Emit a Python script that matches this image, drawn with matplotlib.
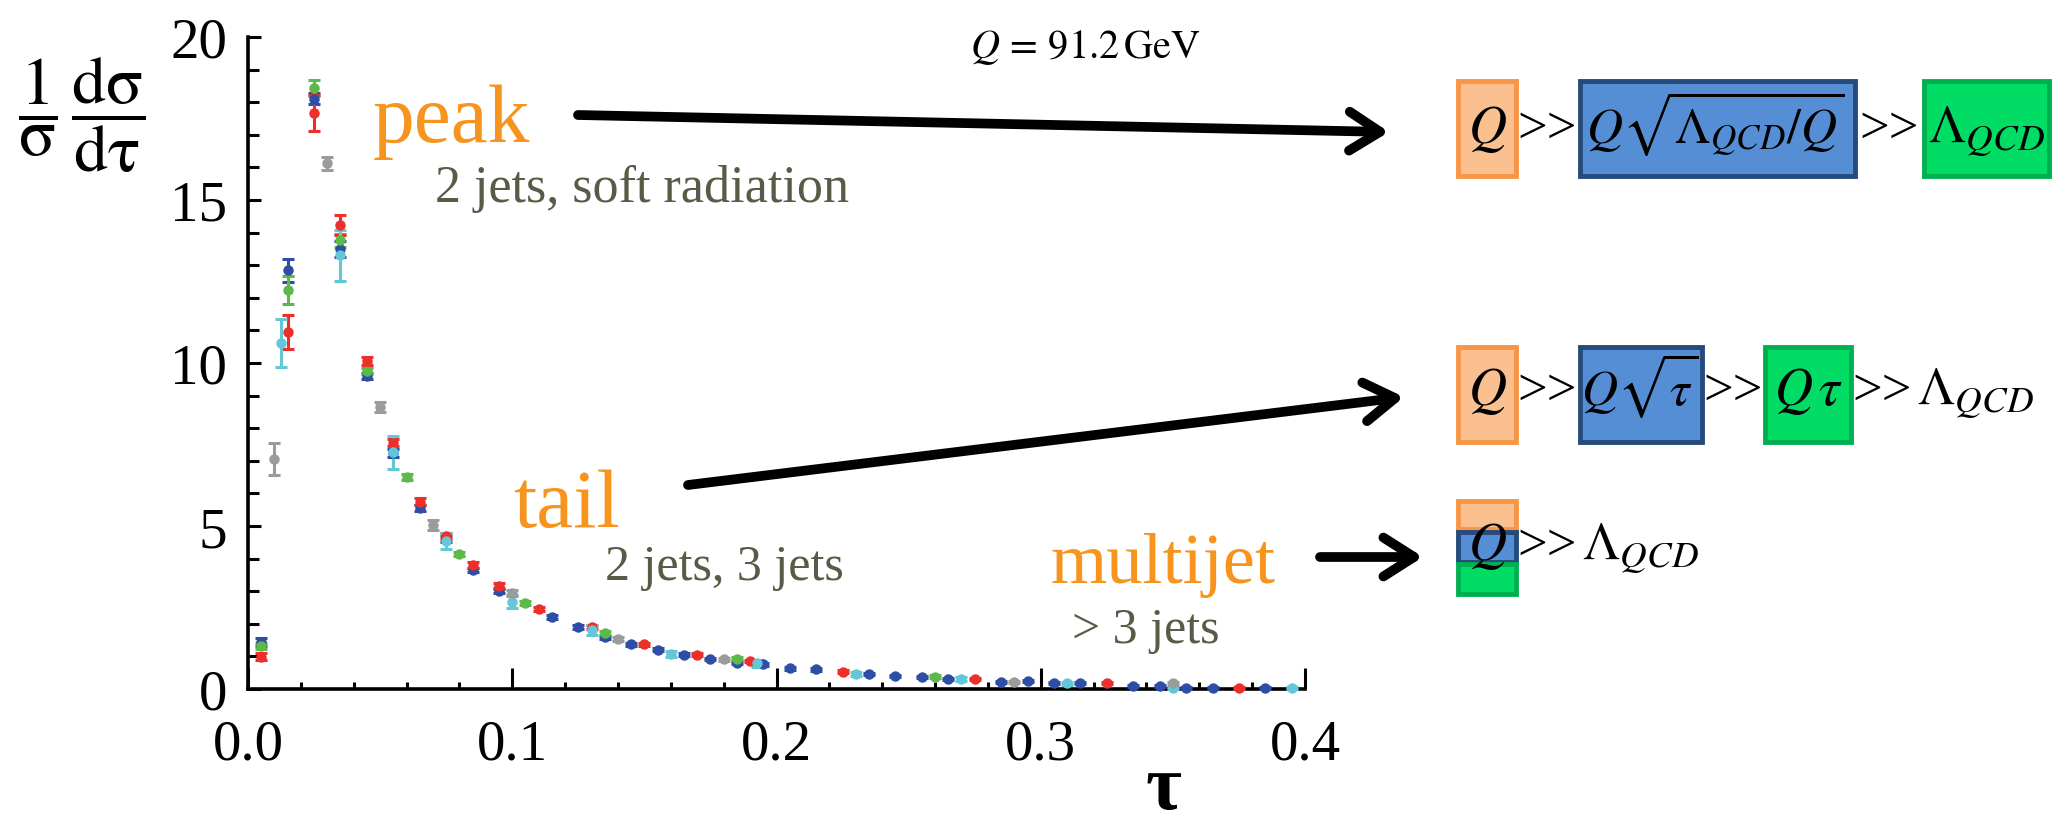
import matplotlib
matplotlib.use("Agg")
import matplotlib.pyplot as plt
from matplotlib.patches import Rectangle
from matplotlib.ticker import MultipleLocator, FixedLocator, FixedFormatter

plt.rcParams['font.family'] = ['Liberation Serif', 'DejaVu Serif']
plt.rcParams['mathtext.fontset'] = 'stix'

# thrust distribution at Q = 91.2 GeV, several experiments
blue_tau = [0.005, 0.015, 0.025, 0.035, 0.045, 0.055, 0.065, 0.075, 0.085, 0.095,
            0.115, 0.125, 0.135, 0.145, 0.155, 0.165, 0.175, 0.185, 0.195, 0.205,
            0.215, 0.235, 0.245, 0.255, 0.265, 0.285, 0.295, 0.305, 0.315, 0.335,
            0.345, 0.355, 0.365, 0.385]
blue_val = [1.45, 12.85, 18.1, 13.5, 9.6, 7.25, 5.55, 4.6, 3.65, 3.0,
            2.22, 1.91, 1.59, 1.37, 1.21, 1.05, 0.92, 0.81, 0.76, 0.63,
            0.60, 0.45, 0.40, 0.38, 0.31, 0.22, 0.24, 0.17, 0.17, 0.09,
            0.09, 0.03, 0.04, 0.03]
blue_err = [0.12, 0.35, 0.17, 0.25, 0.1, 0.12, 0.08, 0.08, 0.07, 0.07,
            0.06, 0.06, 0.05, 0.05, 0.05, 0.05, 0.04, 0.04, 0.04, 0.04,
            0.04, 0.03, 0.03, 0.03, 0.03, 0.03, 0.03, 0.03, 0.03, 0.02,
            0.02, 0.02, 0.02, 0.02]

red_tau = [0.005, 0.015, 0.025, 0.035, 0.045, 0.055, 0.065, 0.075, 0.085, 0.095,
           0.11, 0.13, 0.15, 0.17, 0.19, 0.225, 0.275, 0.325, 0.375]
red_val = [0.99, 10.95, 17.68, 14.23, 10.05, 7.56, 5.75, 4.7, 3.8, 3.17,
           2.45, 1.89, 1.37, 1.05, 0.86, 0.53, 0.31, 0.19, 0.03]
red_err = [0.1, 0.52, 0.55, 0.3, 0.12, 0.12, 0.1, 0.1, 0.1, 0.08,
           0.06, 0.06, 0.05, 0.05, 0.04, 0.04, 0.03, 0.03, 0.02]

green_tau = [0.005, 0.015, 0.025, 0.035, 0.045, 0.06, 0.08, 0.105, 0.135, 0.185, 0.26]
green_val = [1.32, 12.24, 18.43, 13.77, 9.75, 6.51, 4.14, 2.63, 1.71, 0.93, 0.38]
green_err = [0.08, 0.43, 0.25, 0.2, 0.1, 0.1, 0.06, 0.06, 0.06, 0.05, 0.04]

cyan_tau = [0.0125, 0.035, 0.055, 0.075, 0.1, 0.13, 0.16, 0.1925, 0.23, 0.27, 0.31, 0.35, 0.395]
cyan_val = [10.62, 13.31, 7.26, 4.55, 2.68, 1.81, 1.08, 0.79, 0.45, 0.31, 0.17, 0.03, 0.03]
cyan_err = [0.73, 0.78, 0.5, 0.25, 0.2, 0.15, 0.1, 0.1, 0.06, 0.05, 0.04, 0.03, 0.03]

gray_tau = [0.01, 0.03, 0.05, 0.07, 0.1, 0.14, 0.18, 0.29, 0.35]
gray_val = [7.05, 16.13, 8.66, 5.03, 2.94, 1.54, 0.91, 0.22, 0.17]
gray_err = [0.5, 0.2, 0.15, 0.15, 0.1, 0.06, 0.05, 0.04, 0.04]

x_ticks = [0.0, 0.1, 0.2, 0.3, 0.4]
x_labels = ['0.0', '0.1', '0.2', '0.3', '0.4']
y_ticks = [0, 5, 10, 15, 20]
y_labels = ['0', '5', '10', '15', '20']

W, H = 2059, 828


def fpos(x, y):
    # pixel position in the picture -> figure fraction
    return x / W, 1 - y / H


fig = plt.figure(figsize=(W / 100, H / 100), dpi=100)
ax = fig.add_axes([248 / W, 1 - 690 / H, (1305 - 248) / W, (690 - 38) / H])

series = [
    (blue_tau, blue_val, blue_err, '#2e4da6'),
    (green_tau, green_val, green_err, '#5db94a'),
    (red_tau, red_val, red_err, '#ec2f2a'),
    (cyan_tau, cyan_val, cyan_err, '#63c7d7'),
    (gray_tau, gray_val, gray_err, '#9b9b9b'),
]
for tau, val, err, col in series:
    ax.errorbar(tau, val, yerr=err, fmt='o', color=col, ms=6.5, mec=col,
                elinewidth=2.2, capsize=4, capthick=2.2, clip_on=False, zorder=3)

ax.set_xlim(0, 0.4)
ax.set_ylim(0, 20)
ax.spines['top'].set_visible(False)
ax.spines['right'].set_visible(False)
ax.spines['left'].set_linewidth(2.6)
ax.spines['bottom'].set_linewidth(2.6)
ax.xaxis.set_major_locator(FixedLocator(x_ticks))
ax.xaxis.set_major_formatter(FixedFormatter(x_labels))
ax.yaxis.set_major_locator(FixedLocator(y_ticks))
ax.yaxis.set_major_formatter(FixedFormatter(y_labels))
ax.xaxis.set_minor_locator(MultipleLocator(0.02))
ax.yaxis.set_minor_locator(MultipleLocator(1))
ax.tick_params(axis='x', which='major', direction='in', length=15, width=2.2, pad=21, labelsize=41)
ax.tick_params(axis='x', which='minor', direction='in', length=5, width=2.2)
ax.tick_params(axis='y', which='major', direction='in', length=9.5, width=2.2, pad=15, labelsize=41)
ax.tick_params(axis='y', which='minor', direction='in', length=8, width=2.2)

# axis labels
fig.text(*fpos(82, 115), r'$\dfrac{1}{\mathrm{\sigma}}\,\dfrac{\mathrm{d\sigma}}{\mathrm{d\tau}}$',
         fontsize=49, ha='center', va='center')
fig.text(*fpos(1163, 826), 'τ', fontsize=56, fontweight='bold', ha='center', va='bottom')
fig.text(*fpos(1085, 58), r'$Q\,=\,91.2\,\mathrm{GeV}$', fontsize=29, ha='center', va='baseline')

# region labels
orange = '#f7941d'
olive = '#5a5a46'
fig.text(*fpos(373, 142), 'peak', fontsize=60, color=orange, ha='left', va='baseline')
fig.text(*fpos(435, 202), '2 jets, soft radiation', fontsize=37.5, color=olive, ha='left', va='baseline')
fig.text(*fpos(513, 527), 'tail', fontsize=60, color=orange, ha='left', va='baseline')
fig.text(*fpos(605, 580), '2 jets, 3 jets', fontsize=36, color=olive, ha='left', va='baseline')
fig.text(*fpos(1050, 583), 'multijet', fontsize=52, color=orange, ha='left', va='baseline')
fig.text(*fpos(1072, 643), '> 3 jets', fontsize=36, color=olive, ha='left', va='baseline')

# arrows
arrow_kw = dict(arrowstyle='->,head_length=1.1,head_width=0.7', lw=7, color='black',
                shrinkA=0, shrinkB=0, mutation_scale=20)
for start, end in [((578, 116), (1389, 133)), ((688, 486), (1404, 398)), ((1320, 558), (1423, 558))]:
    ax.annotate('', xy=fpos(*end), xytext=fpos(*start), xycoords='figure fraction',
                textcoords='figure fraction', arrowprops=arrow_kw, annotation_clip=False)

# scale hierarchy boxes
box_style = {
    'o': ('#fac090', '#f79646'),
    'b': ('#558ed5', '#254a7c'),
    'g': ('#00dc64', '#00b050'),
}
boxes = [
    ('o', 1458, 82, 1516, 177), ('b', 1580, 82, 1855, 177), ('g', 1924, 82, 2049, 177),
    ('o', 1458, 348, 1516, 443), ('b', 1580, 348, 1702, 443), ('g', 1765, 348, 1851, 443),
    ('o', 1458, 502, 1516, 530), ('b', 1458, 533, 1516, 563), ('g', 1458, 565, 1516, 595),
]
for key, x0, y0, x1, y1 in boxes:
    fc, ec = box_style[key]
    fig.add_artist(Rectangle(fpos(x0, y1), (x1 - x0) / W, (y1 - y0) / H,
                             transform=fig.transFigure, fc=fc, ec=ec, lw=3.5))

ms = 38
rows = [
    (143, [(1487, r'$Q$'), (1547, '>>'), (1715, r'$Q\sqrt{\Lambda_{QCD}/Q}$', 36),
           (1889, '>>'), (1986, r'$\Lambda_{QCD}$')]),
    (405, [(1487, r'$Q$'), (1547, '>>'), (1640, r'$Q\sqrt{\tau}$', 36), (1733, '>>'),
           (1808, r'$Q\,\tau$'), (1882, '>>'), (1975, r'$\Lambda_{QCD}$')]),
    (560, [(1487, r'$Q$'), (1547, '>>'), (1640, r'$\Lambda_{QCD}$')]),
]
for base, items in rows:
    for item in items:
        xc, s = item[0], item[1]
        size = item[2] if len(item) > 2 else ms
        fig.text(*fpos(xc, base), s, fontsize=size, ha='center', va='baseline', zorder=5)

fig.savefig('out.png', dpi=100)
